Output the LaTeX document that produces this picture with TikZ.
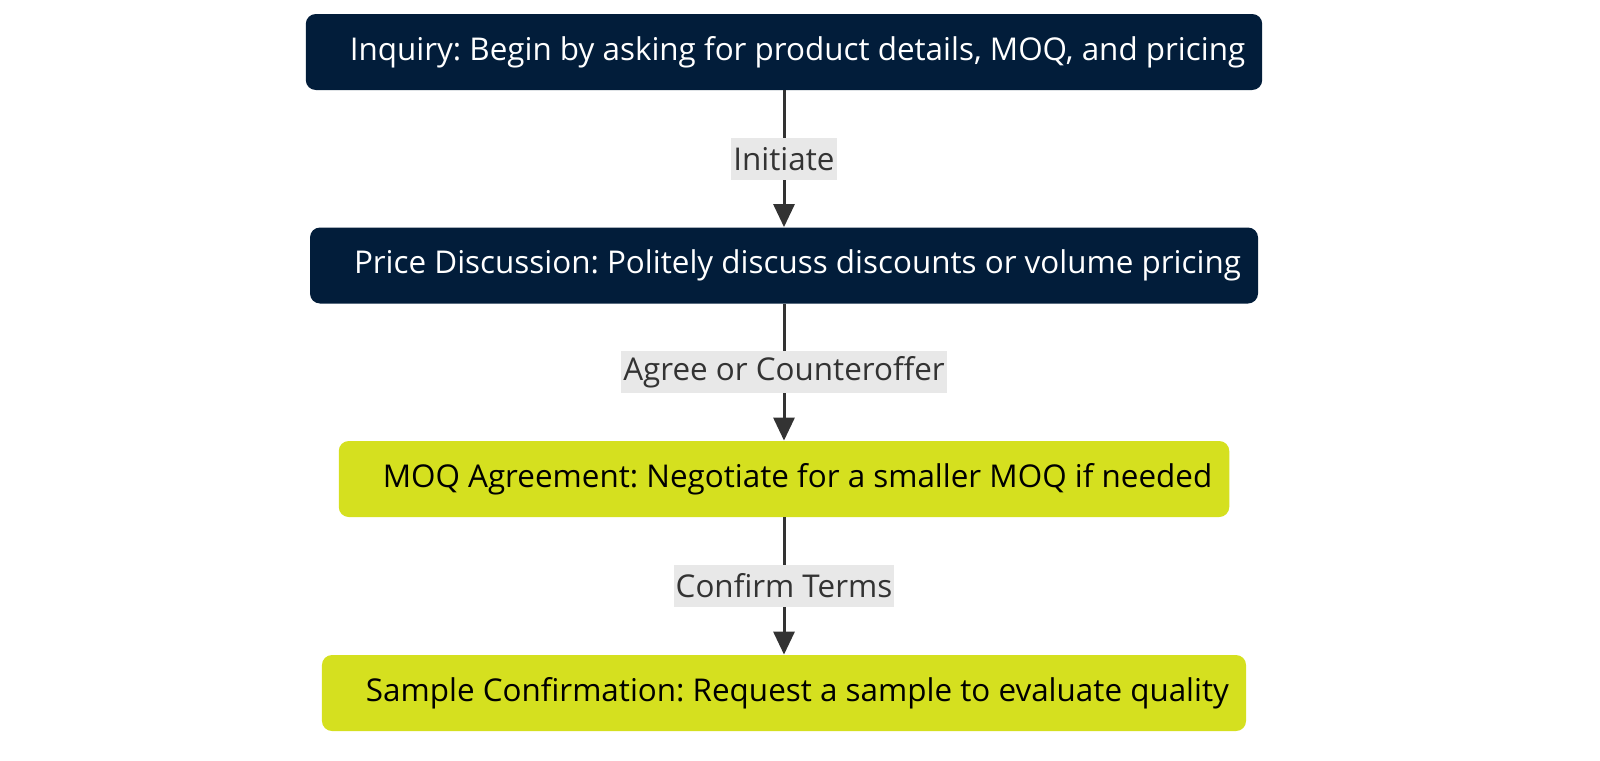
\documentclass[tikz,border=0pt]{standalone}
\usepackage{fontspec}
\setmainfont{Open Sans}
\usepackage{xcolor}
\usetikzlibrary{arrows.meta,positioning}
\definecolor{navy}{HTML}{021D3A}
\definecolor{lime}{HTML}{D5E01F}
\definecolor{linegray}{HTML}{333333}
\definecolor{lblgray}{HTML}{E8E8E8}
\tikzset{
        darkblock/.style = {rectangle, rounded corners=5pt, fill=navy,
            text=white, minimum height=38pt, inner xsep=8.5pt},
        limeblock/.style = {rectangle, rounded corners=5pt, fill=lime,
            text=black, minimum height=38pt, inner xsep=8.5pt},
        arrow/.style={draw=linegray, line width=1.5pt,
            -{Triangle[length=11.5pt,width=10.5pt]}},
        lbl/.style = {fill=lblgray, text=linegray, inner xsep=1pt,
            inner ysep=0pt, minimum height=21pt},
    }
\frenchspacing

\begin{document}
\begin{tikzpicture}[x=0.5pt,y=-0.5pt,font=\fontsize{15.7pt}{19pt}\selectfont]
\useasboundingbox (0,0) rectangle (1600,760);

% Steps
\node (inquiry) [darkblock] at (784,52) {\hspace*{13.5pt}Inquiry: Begin by asking for product details, MOQ, and pricing};
\node (price) [darkblock] at (784,265.5) {\hspace*{13.5pt}Price Discussion: Politely discuss discounts or volume pricing};
\node (moq) [limeblock] at (784,479) {\hspace*{13.5pt}MOQ Agreement: Negotiate for a smaller MOQ if needed};
\node (sample) [limeblock] at (784,693) {\hspace*{13.5pt}Sample Confirmation: Request a sample to evaluate quality};

% Connectors
\draw [arrow] (inquiry) -- node [lbl] (initiate) {Initiate} (price);
\draw [arrow] (price) -- node [lbl] (agree) {Agree or Counteroffer} (moq);
\draw [arrow] (moq) -- node [lbl] (confirm) {Confirm Terms} (sample);

\end{tikzpicture}
\end{document}
